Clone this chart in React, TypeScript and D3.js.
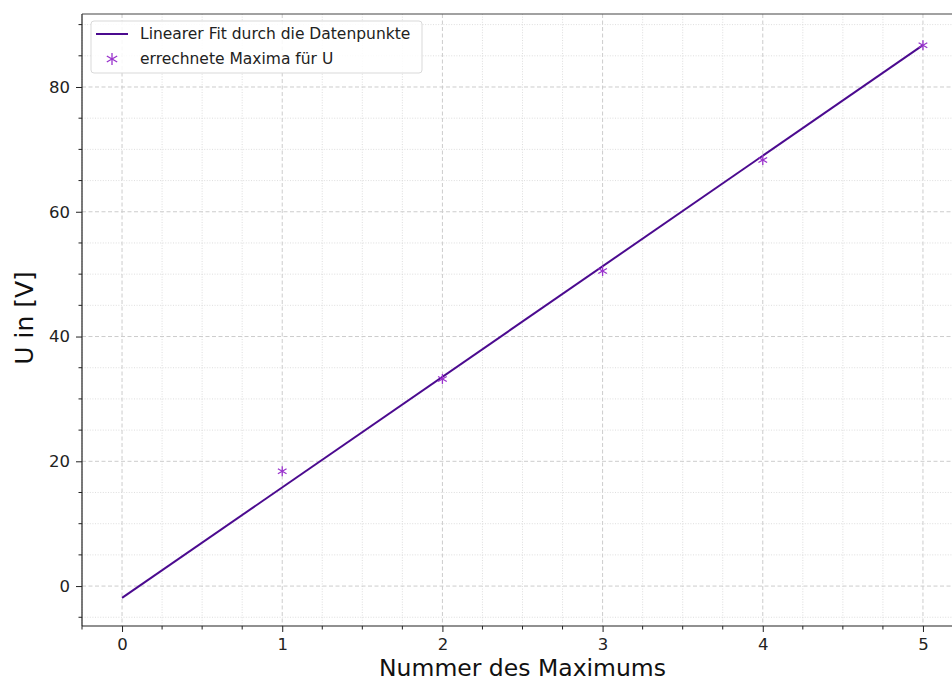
import React, { useEffect, useRef } from "react";
import * as d3 from "d3";

// values
const maxNumber = [1, 2, 3, 4, 5];
const maxVoltage = [18.4, 33.2, 50.5, 68.3, 86.7];
const fitX = [0, 5];
const fitY = [-1.9, 86.7];
const xTicks = [0, 1, 2, 3, 4, 5];
const yTicks = [0, 20, 40, 60, 80];
const legendLabels = ["Linearer Fit durch die Datenpunkte", "errechnete Maxima für U"];

const W = 952;
const H = 681;
const lineColor = "#4b0a8f";
const markColor = "#9932cc";
const font = "DejaVu Sans, sans-serif";

function App() {
  const svgRef = useRef<SVGSVGElement>(null);

  useEffect(() => {
    const svg = d3.select(svgRef.current);
    svg.selectAll("*").remove();

    const left = 82, top = 14, bottom = 626;
    const x = d3.scaleLinear().domain([-0.25, 5.25]).range([left, left + 881]);
    const y = d3.scaleLinear().domain([-6.4, 91.7]).range([bottom, top]);
    const right = x(5.25);

    const minorX = d3.range(-0.25, 5.26, 0.25).filter(v => Math.abs(v - Math.round(v)) > 0.01);
    const minorY = d3.range(-5, 91, 5).filter(v => v % 20 !== 0);

    const grid = svg.append("g");
    grid.selectAll(".mx").data(minorX).join("line")
      .attr("x1", d => x(d)).attr("x2", d => x(d)).attr("y1", top).attr("y2", bottom)
      .attr("stroke", "#d6d6d6").attr("stroke-width", 0.8).attr("stroke-dasharray", "1,1.6");
    grid.selectAll(".my").data(minorY).join("line")
      .attr("y1", d => y(d)).attr("y2", d => y(d)).attr("x1", left).attr("x2", right)
      .attr("stroke", "#d6d6d6").attr("stroke-width", 0.8).attr("stroke-dasharray", "1,1.6");
    grid.selectAll(".gx").data(xTicks).join("line")
      .attr("x1", d => x(d)).attr("x2", d => x(d)).attr("y1", top).attr("y2", bottom)
      .attr("stroke", "#cccccc").attr("stroke-width", 1).attr("stroke-dasharray", "4,2.5");
    grid.selectAll(".gy").data(yTicks).join("line")
      .attr("y1", d => y(d)).attr("y2", d => y(d)).attr("x1", left).attr("x2", right)
      .attr("stroke", "#cccccc").attr("stroke-width", 1).attr("stroke-dasharray", "4,2.5");

    // fit line
    const line = d3.line<number>().x((d, i) => x(fitX[i])).y(d => y(d));
    svg.append("path").datum(fitY).attr("d", line)
      .attr("fill", "none").attr("stroke", lineColor).attr("stroke-width", 2);

    // asterisk markers
    const star = (g: d3.Selection<SVGGElement, any, any, any>, r: number) => {
      [0, 60, 120].forEach(a => {
        const rad = (a * Math.PI) / 180;
        g.append("line")
          .attr("x1", -r * Math.sin(rad)).attr("y1", -r * Math.cos(rad))
          .attr("x2", r * Math.sin(rad)).attr("y2", r * Math.cos(rad))
          .attr("stroke", markColor).attr("stroke-width", 1.3);
      });
    };
    maxNumber.forEach((n, i) => {
      const g = svg.append("g").attr("transform", `translate(${x(n)},${y(maxVoltage[i])})`);
      star(g as any, 5);
    });

    // axes
    const xAxis = d3.axisBottom(x).tickValues(xTicks).tickSize(6).tickPadding(6).tickFormat(d3.format("d"));
    const gx = svg.append("g").attr("transform", `translate(0,${bottom})`).call(xAxis);
    gx.append("g").selectAll("line").data(minorX).join("line")
      .attr("x1", d => x(d)).attr("x2", d => x(d)).attr("y1", 0).attr("y2", 3.5)
      .attr("stroke", "#222");
    const yAxis = d3.axisLeft(y).tickValues(yTicks).tickSize(6).tickPadding(6).tickFormat(d3.format("d"));
    const gy = svg.append("g").attr("transform", `translate(${left},0)`).call(yAxis);
    gy.append("g").selectAll("line").data(minorY).join("line")
      .attr("y1", d => y(d)).attr("y2", d => y(d)).attr("x1", 0).attr("x2", -3.5)
      .attr("stroke", "#222");
    [gx, gy].forEach(g => {
      g.select(".domain").remove();
      g.selectAll(".tick line").attr("stroke", "#222");
      g.selectAll(".tick text").attr("font-family", font).attr("font-size", 16.5).attr("fill", "#222");
    });

    // spines
    svg.append("line").attr("x1", left).attr("x2", left).attr("y1", top).attr("y2", bottom)
      .attr("stroke", "#222").attr("stroke-width", 1.2);
    svg.append("line").attr("x1", left).attr("x2", right).attr("y1", bottom).attr("y2", bottom)
      .attr("stroke", "#222").attr("stroke-width", 1.2);
    svg.append("line").attr("x1", left).attr("x2", right).attr("y1", top).attr("y2", top)
      .attr("stroke", "#444").attr("stroke-width", 1.2);

    // axis labels
    svg.append("text").attr("x", x(2.5)).attr("y", 675.5).attr("text-anchor", "middle")
      .attr("font-family", font).attr("font-size", 23.5).attr("fill", "#111").text("Nummer des Maximums");
    svg.append("text").attr("transform", `translate(33,318) rotate(-90)`)
      .attr("text-anchor", "middle").attr("font-family", font).attr("font-size", 25).attr("fill", "#111")
      .text("U in [V]");

    // legend
    const lg = svg.append("g").attr("transform", "translate(91,21)");
    lg.append("rect").attr("width", 331).attr("height", 52).attr("rx", 3)
      .attr("fill", "rgba(255,255,255,0.85)").attr("stroke", "#d9d9d9");
    lg.append("line").attr("x1", 5).attr("x2", 37).attr("y1", 13).attr("y2", 13)
      .attr("stroke", lineColor).attr("stroke-width", 2);
    const lm = lg.append("g").attr("transform", "translate(21,38)");
    star(lm as any, 6);
    legendLabels.forEach((t, i) => {
      lg.append("text").attr("x", 49).attr("y", 18 + i * 25)
        .attr("font-family", font).attr("font-size", 15.5).attr("fill", "#222").text(t);
    });
  }, []);

  return (
    <svg ref={svgRef} width={W} height={H} style={{ position: "absolute", left: 0, top: 0 }} />
  );
}

export default App;
